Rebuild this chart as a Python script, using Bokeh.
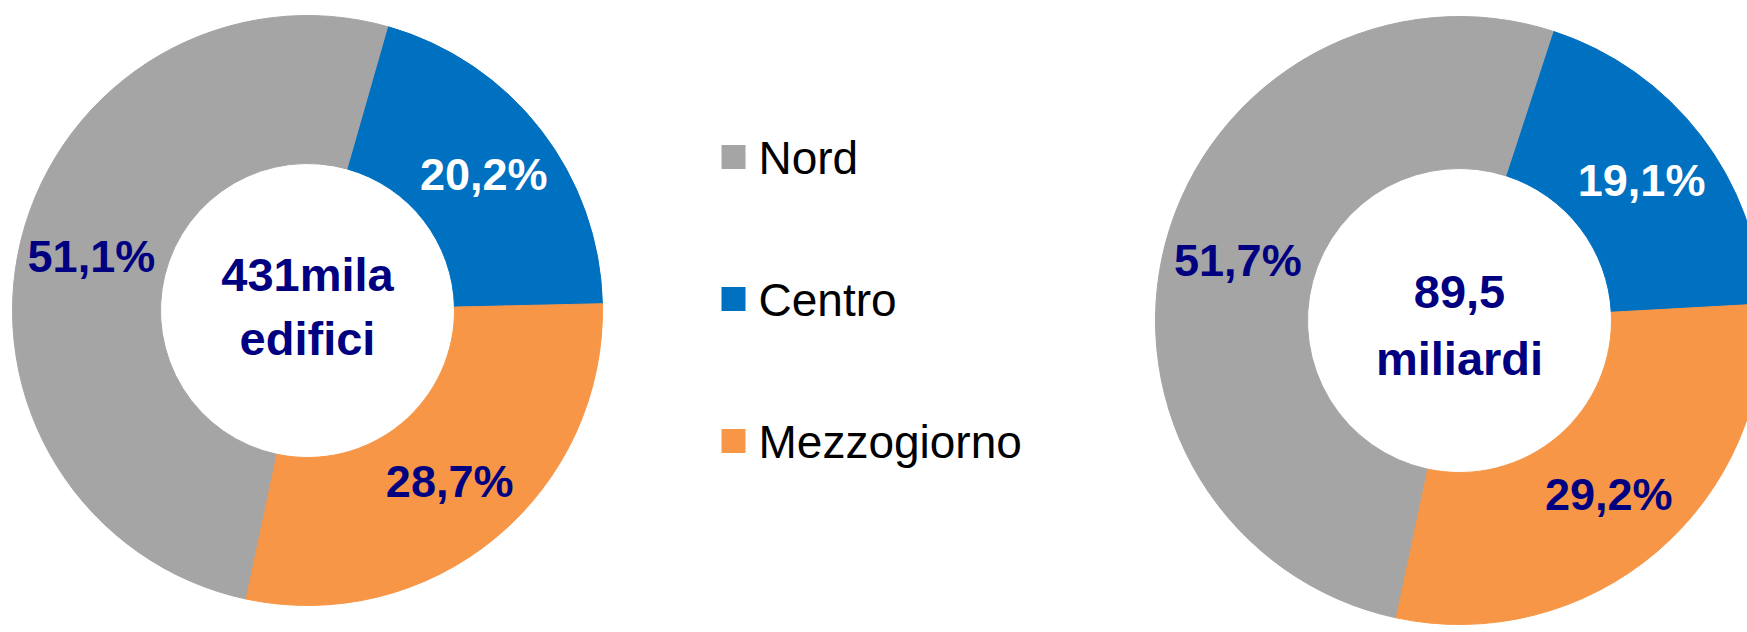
import math
from bokeh.plotting import figure
from bokeh.models import ColumnDataSource
from bokeh.core.properties import value
from bokeh.embed import file_html
from bokeh.resources import INLINE

# ---- data ----
categories = ["Nord", "Centro", "Mezzogiorno"]
colors = ["#A5A5A5", "#0070C0", "#F79646"]
label_colors = ["#000080", "#FFFFFF", "#000080"]
edifici_pct = [51.1, 20.2, 28.7]
importi_pct = [51.7, 19.1, 29.2]
center_left = ["431mila", "edifici"]
center_right = ["89,5", "miliardi"]

W, H = 1747, 632
p = figure(width=W, height=H, x_range=(0, W), y_range=(-H, 0),
           output_backend="svg", toolbar_location=None, min_border=0)
p.axis.visible = False
p.grid.visible = False
p.outline_line_color = None
p.background_fill_color = "white"
p.border_fill_color = "white"

FONT = value("Liberation Sans")
NAVY = "#000080"


def donut(cx, cy, r_out, r_in, vals, lines, line_dy, first_angle=192.0):
    total = float(sum(vals))
    starts, ends, lx, ly, labs = [], [], [], [], []
    acc = first_angle
    r_lab = 0.755 * r_out
    for v in vals:
        span = v / total * 360.0
        starts.append(math.radians(90 - acc))
        ends.append(math.radians(90 - acc - span))
        mid = math.radians(90 - acc - span / 2)
        lx.append(cx + r_lab * math.cos(mid))
        ly.append(-cy + r_lab * math.sin(mid))
        labs.append(f"{v:.1f}%".replace(".", ","))
        acc += span
    src = ColumnDataSource(dict(start=starts, end=ends, color=colors,
                                lx=lx, ly=ly, lab=labs, lcol=label_colors))
    p.annular_wedge(x=cx, y=-cy, inner_radius=r_in, outer_radius=r_out,
                    start_angle="start", end_angle="end", direction="clock",
                    fill_color="color", line_color="color", line_width=1,
                    source=src)
    p.text(x="lx", y="ly", text="lab", text_color="lcol", source=src,
           text_font=FONT, text_font_style="bold", text_font_size="45px",
           text_align="center", text_baseline="middle")
    p.text(x=[cx, cx], y=[-(cy + d) for d in line_dy], text=lines,
           text_color=NAVY, text_font=FONT, text_font_style="bold",
           text_font_size="47px", text_align="center",
           text_baseline="middle")


donut(307, 310, 295, 147, edifici_pct, center_left, (-36, 28))
donut(1459, 320, 304, 152, importi_pct, center_right, (-29, 38))

# ---- legend ----
leg_y = [156.5, 298.5, 440.5]
leg_src = ColumnDataSource(dict(x=[733] * 3, y=[-v for v in leg_y],
                                tx=[758] * 3, ty=[-(v + 0.5) for v in leg_y],
                                color=colors, name=categories))
p.rect(x="x", y="y", width=24, height=24, fill_color="color",
       line_color=None, source=leg_src)
p.text(x="tx", y="ty", text="name", source=leg_src, text_color="black",
       text_font=FONT, text_font_size="46px", text_align="left",
       text_baseline="middle")

open("out.html", "w").write(file_html(p, INLINE))
